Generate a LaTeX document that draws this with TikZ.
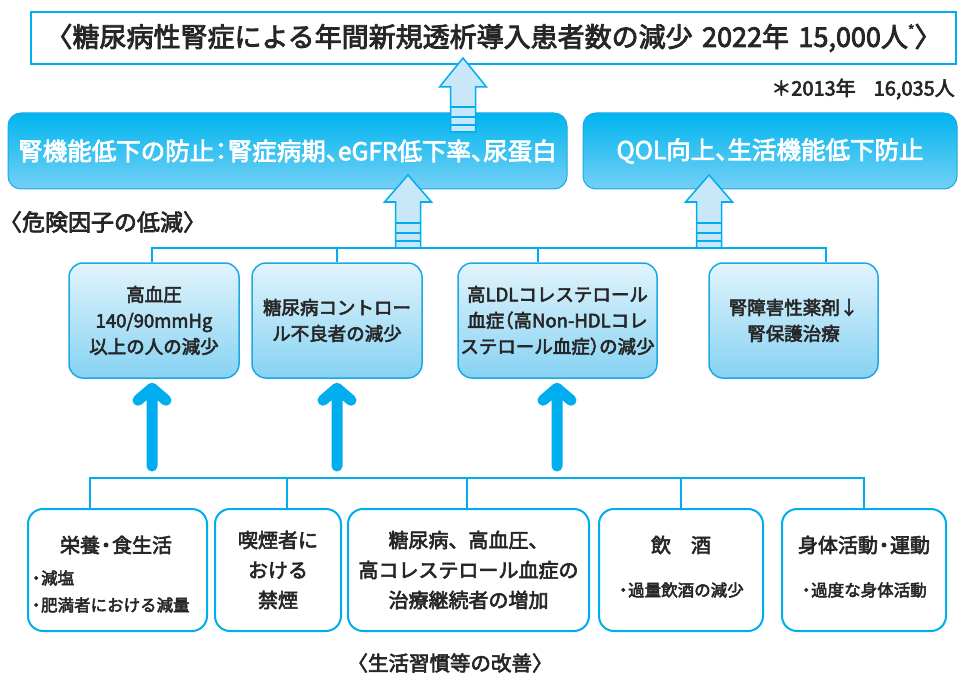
\documentclass[tikz,border=0pt]{standalone}
\usepackage{fontspec}
\setmainfont{Noto Sans CJK JP}[FakeBold=3]
\usetikzlibrary{calc}
\definecolor{cyanline}{HTML}{00AEEF}
\definecolor{boxline}{HTML}{1DA8E4}
\definecolor{txt}{HTML}{262626}
\definecolor{midtop}{HTML}{00B5EF}
\definecolor{midbot}{HTML}{74D0F5}
\definecolor{rtop}{HTML}{E2F4FC}
\definecolor{rmid}{HTML}{D4EFFA}
\definecolor{rbot}{HTML}{86D2F3}
\definecolor{hfill}{HTML}{C8E8F9}
\newcommand{\hcomma}{\makebox[0.5em][l]{、}}
\newcommand{\hcolon}{\makebox[0.55em][c]{：}}
\newcommand{\hlpar}{\makebox[0.5em][r]{（}}
\newcommand{\hrpar}{\makebox[0.5em][l]{）}}
\newcommand{\hdot}{\makebox[0.6em][c]{・}}
\tikzset{
  topbox/.style={draw=cyanline, line width=2.5, fill=white, inner sep=0,
    minimum width=925, minimum height=52, text=txt, font=\fontsize{27}{30}\selectfont},
  midbox/.style={draw=boxline, line width=1, rounded corners=13, inner sep=0,
    top color=midtop, middle color=midtop, bottom color=midbot,
    minimum height=76, text=white, font=\fontsize{24.5}{28}\selectfont},
  riskbox/.style={draw=boxline, line width=1.5, rounded corners=14, inner sep=0,
    top color=rtop, middle color=rmid, bottom color=rbot,
    minimum height=115, text=txt, align=center, font=\fontsize{18.5}{26}\selectfont},
  lifebox/.style={draw=cyanline, line width=2, rounded corners=15, fill=white, inner sep=0,
    minimum height=122, text=txt, align=center, font=\fontsize{20}{30}\selectfont},
  lbl/.style={inner sep=0, text=txt},
  bullet/.style={inner sep=0, text=txt, font=\fontsize{16.5}{20}\selectfont},
  bracket/.style={draw=cyanline, line width=2.5},
  solidarr/.style={draw=cyanline, line width=11, line cap=round, line join=round},
  harrow/.style={draw=cyanline, line width=1.5, fill=hfill},
}
\newcommand{\hollowarr}[4]{% x, tip y, head base y, bottom y
  \filldraw[harrow] (#1,#2) -- (#1+23.5,#3) -- (#1+12.5,#3) -- (#1+12.5,#4)
    -- (#1-12.5,#4) -- (#1-12.5,#3) -- (#1-23.5,#3) -- cycle;
  \draw[harrow] (#1-12.5,#4-25) -- (#1+12.5,#4-25)
    (#1-12.5,#4-15) -- (#1+12.5,#4-15)
    (#1-12.5,#4-7) -- (#1+12.5,#4-7);
}
\begin{document}
\begin{tikzpicture}[x=1pt,y=-1pt]
\useasboundingbox (0,0) rectangle (959,674);

% top goal
\node[topbox] (goal) at (493.5,38) {\makebox[0.6em][r]{〈}糖尿病性腎症による年間新規透析導入患者数の減少\hspace{0.35em}2022年\hspace{0.35em}15,000人\raisebox{0.42em}{\fontsize{14}{14}\selectfont *}\makebox[0.6em][l]{〉}};
\node[lbl, anchor=east, font=\fontsize{20}{22}\selectfont] (note) at (955,89) {＊2013年\hspace{0.9em}16,035人};

% middle outcome boxes
\node[midbox, minimum width=559] (m1) at (287.5,151) {腎機能低下の防止\hcolon 腎症病期\hcomma eGFR低下率\hcomma 尿蛋白};
\node[midbox, minimum width=374] (m2) at (770,151) {QOL向上\hcomma 生活機能低下防止};

\node[lbl, anchor=west, font=\fontsize{23}{26}\selectfont] (risklbl) at (8,222) {\makebox[0.6em][r]{〈}危険因子の低減\makebox[0.6em][l]{〉}};

% hollow arrows
\hollowarr{463}{58}{87}{132}
\hollowarr{408}{175}{202}{248}
\hollowarr{709}{175}{202}{248}

% risk factor boxes
\node[riskbox, minimum width=170] (r1) at (154,320.5) {高血圧\\140/90mmHg\\以上の人の減少};
\node[riskbox, minimum width=170] (r2) at (337,320.5) {糖尿病コントロー\\ル不良者の減少};
\node[riskbox, minimum width=199] (r3) at (557.5,320.5) {高LDLコレステロール\\血症\hlpar 高Non-HDLコレ\\ステロール血症\hrpar の減少};
\node[riskbox, minimum width=169] (r4) at (793.5,320.5) {腎障害性薬剤↓\\腎保護治療};

% upper bracket
\coordinate (ua) at (152,248);
\coordinate (ub) at (337,248);
\coordinate (uc) at (538,248);
\coordinate (ud) at (826,248);
\draw[bracket] (ua |- r1.north) -- (ua) -- (ud) -- (ud |- r4.north);
\draw[bracket] (ub) -- (ub |- r2.north);
\draw[bracket] (uc) -- (uc |- r3.north);

% lifestyle boxes
\node[lifebox, minimum width=179] (l1) at (117.5,570) {};
\node[lifebox, minimum width=126] (l2) at (278,570) {喫煙者に\\おける\\禁煙};
\node[lifebox, minimum width=241] (l3) at (468.5,570) {糖尿病、高血圧、\\高コレステロール血症の\\治療継続者の増加};
\node[lifebox, minimum width=164] (l4) at (681,570) {};
\node[lifebox, minimum width=164] (l5) at (864,570) {};

\node[lbl, font=\fontsize{20}{22}\selectfont] (l1t) at (116,545) {栄養\hdot 食生活};
\node[bullet, anchor=west] (l1a) at (31,578) {\hdot 減塩};
\node[bullet, anchor=west] (l1b) at (31,605) {\hdot 肥満者における減量};
\node[lbl, font=\fontsize{20}{22}\selectfont] (l4t) at (681,545) {飲\hspace{1em}酒};
\node[bullet] (l4a) at (681,590) {\hdot 過量飲酒の減少};
\node[lbl, font=\fontsize{20}{22}\selectfont] (l5t) at (864,545) {身体活動\hdot 運動};
\node[bullet] (l5a) at (864,590) {\hdot 過度な身体活動};

% lower bracket
\coordinate (la) at (90,478);
\coordinate (lb) at (287,478);
\coordinate (lc) at (467,478);
\coordinate (ld) at (681,478);
\coordinate (le) at (864,478);
\draw[bracket] (la |- l1.north) -- (la) -- (le) -- (le |- l5.north);
\draw[bracket] (lb) -- (lb |- l2.north);
\draw[bracket] (lc) -- (lc |- l3.north);
\draw[bracket] (ld) -- (ld |- l4.north);

% solid arrows
\coordinate (s1) at (152,466);
\coordinate (s2) at (337,466);
\coordinate (s3) at (557,466);
\foreach \s/\r in {s1/r1, s2/r2, s3/r3} {
  \draw[solidarr] (\s) -- ($(\s |- \r.south)+(0,9.5)$)
    ($(\s |- \r.south)+(-14,21.5)$) -- ($(\s |- \r.south)+(0,9.5)$) -- ($(\s |- \r.south)+(14,21.5)$);
}

\node[lbl, font=\fontsize{20.5}{24}\selectfont] (lifelbl) at (450,663) {\makebox[0.6em][r]{〈}生活習慣等の改善\makebox[0.6em][l]{〉}};
\end{tikzpicture}
\end{document}
